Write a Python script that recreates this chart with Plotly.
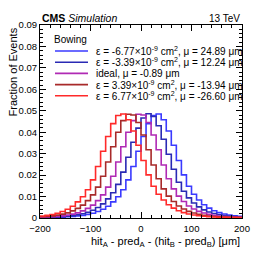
import plotly.graph_objects as go

# Bin edges (µm), 10 µm bins from -200 to 200
bin_edges = list(range(-200, 201, 10))

# Fraction of events per bin
eps_m677 = [0.00018, 0.00022, 0.00028, 0.00034, 0.00043, 0.00055, 0.00071, 0.00093, 0.00122, 0.00165,
            0.0022, 0.0030, 0.0041, 0.0055, 0.0075, 0.0099, 0.0132, 0.0178, 0.0240, 0.0311,
            0.0380, 0.0440, 0.0478, 0.0485, 0.0458, 0.0406, 0.0339, 0.0268, 0.0201, 0.0148,
            0.0111, 0.0084, 0.0062, 0.0046, 0.0034, 0.0025, 0.00185, 0.00138, 0.00103, 0.00079]
eps_m339 = [0.00026, 0.00031, 0.00039, 0.00049, 0.00064, 0.00083, 0.00108, 0.00146, 0.00195, 0.0026,
            0.0036, 0.0049, 0.0066, 0.0089, 0.0118, 0.0157, 0.0214, 0.0283, 0.0353, 0.0419,
            0.0466, 0.0486, 0.0473, 0.0430, 0.0367, 0.0297, 0.0227, 0.0167, 0.0125, 0.0094,
            0.0070, 0.0052, 0.0038, 0.0028, 0.0021, 0.00155, 0.00114, 0.00088, 0.00067, 0.00052]
ideal = [0.00037, 0.00046, 0.00059, 0.00077, 0.0010, 0.00134, 0.0018, 0.0024, 0.0033, 0.0045,
         0.0060, 0.0081, 0.0108, 0.0144, 0.0195, 0.0261, 0.0332, 0.0400, 0.0454, 0.0484,
         0.0480, 0.0445, 0.0387, 0.0318, 0.0247, 0.0183, 0.0136, 0.0102, 0.0077, 0.0056,
         0.0042, 0.0031, 0.0023, 0.0017, 0.00126, 0.00095, 0.00073, 0.00056, 0.00044, 0.00035]
eps_p339 = [0.00059, 0.00077, 0.0010, 0.00134, 0.0018, 0.0024, 0.0033, 0.0045, 0.0060, 0.0081,
            0.0108, 0.0144, 0.0195, 0.0261, 0.0332, 0.0400, 0.0454, 0.0484, 0.0480, 0.0445,
            0.0387, 0.0318, 0.0247, 0.0183, 0.0136, 0.0102, 0.0077, 0.0056, 0.0042, 0.0031,
            0.0023, 0.0017, 0.00126, 0.00095, 0.00073, 0.00056, 0.00044, 0.00035, 0.00028, 0.00023]
eps_p677 = [0.00093, 0.00122, 0.00165, 0.0022, 0.0030, 0.0041, 0.0055, 0.0075, 0.0099, 0.0132,
            0.0178, 0.0240, 0.0311, 0.0380, 0.0440, 0.0478, 0.0485, 0.0458, 0.0406, 0.0339,
            0.0268, 0.0201, 0.0148, 0.0111, 0.0084, 0.0062, 0.0046, 0.0034, 0.0025, 0.00185,
            0.00138, 0.00103, 0.00079, 0.0006, 0.00047, 0.00038, 0.0003, 0.00025, 0.0002, 0.00016]

series_labels = [
    "ε = -6.77×10<sup>-9</sup> cm<sup>2</sup>, μ = 24.89 μm",
    "ε = -3.39×10<sup>-9</sup> cm<sup>2</sup>, μ = 12.24 μm",
    "ideal, μ = -0.89 μm",
    "ε = 3.39×10<sup>-9</sup> cm<sup>2</sup>, μ = -13.94 μm",
    "ε = 6.77×10<sup>-9</sup> cm<sup>2</sup>, μ = -26.60 μm",
]
series_values = [eps_m677, eps_m339, ideal, eps_p339, eps_p677]
series_colors = ["#3a3aff", "#2a2ab4", "#b02ab4", "#a82a2a", "#ff2a2a"]

FONT = "Liberation Sans, Arial, Helvetica, sans-serif"

fig = go.Figure()
for vals, col, lab in zip(series_values, series_colors, series_labels):
    fig.add_trace(go.Scatter(
        x=bin_edges, y=vals + [vals[-1]], mode="lines", line_shape="hv",
        line=dict(color=col, width=1.6), name=lab, showlegend=False))

# legend (drawn manually to get ROOT-like compact spacing)
leg_y_px = [51, 62.2, 73.4, 84.6, 95.8]
H_TOP, H_BOT, W_L, W_R = 25, 218, 40, 242
def py(p):
    return (H_BOT - p) / (H_BOT - H_TOP)
def px(p):
    return (p - W_L) / (W_R - W_L)

annotations = []
shapes = []
annotations.append(dict(text="Bowing", x=px(52), y=py(39), xref="paper", yref="paper",
                        xanchor="left", yanchor="middle", showarrow=False,
                        font=dict(size=10, color="black", family=FONT)))
for yy, col, lab in zip(leg_y_px, series_colors, series_labels):
    shapes.append(dict(type="line", xref="paper", yref="paper", x0=px(55), x1=px(88),
                       y0=py(yy), y1=py(yy), line=dict(color=col, width=1.6)))
    annotations.append(dict(text=lab, x=px(94), y=py(yy), xref="paper", yref="paper",
                            xanchor="left", yanchor="middle", showarrow=False,
                            font=dict(size=10, color="black", family=FONT)))

annotations.append(dict(text="<b>CMS</b> <i>Simulation</i>", x=0, y=py(18), xref="paper",
                        yref="paper", xanchor="left", yanchor="middle", showarrow=False,
                        font=dict(size=10.5, color="black", family=FONT)))
annotations.append(dict(text="13 TeV", x=1, y=py(18), xref="paper", yref="paper",
                        xanchor="right", yanchor="middle", showarrow=False,
                        font=dict(size=10, color="black", family=FONT)))
annotations.append(dict(text="Fraction of Events", x=px(12), y=py(26), xref="paper",
                        yref="paper", xanchor="center", yanchor="top", textangle=-90,
                        showarrow=False, font=dict(size=11, color="black", family=FONT)))
annotations.append(dict(text="hit<sub>A</sub> - pred<sub>A</sub> - (hit<sub>B</sub> - pred<sub>B</sub>) [μm]",
                        x=1, y=py(242), xref="paper", yref="paper", xanchor="right",
                        yanchor="middle", showarrow=False,
                        font=dict(size=11, color="black", family=FONT)))

axis_common = dict(showline=True, linecolor="black", linewidth=1, mirror="allticks",
                   ticks="inside", ticklen=6, tickcolor="black", tickwidth=1,
                   showgrid=False, zeroline=False,
                   tickfont=dict(size=9.5, color="black", family=FONT))

fig.update_layout(
    width=266, height=259,
    margin=dict(l=W_L, r=266 - W_R, t=H_TOP, b=259 - H_BOT),
    paper_bgcolor="white", plot_bgcolor="white",
    showlegend=False,
    xaxis=dict(range=[-200, 200], tick0=0, dtick=100, ticklabelstandoff=2,
               minor=dict(ticks="inside", ticklen=3, dtick=20, tickcolor="black"),
               **axis_common),
    yaxis=dict(range=[0, 0.09], tick0=0, dtick=0.01,
               minor=dict(ticks="inside", ticklen=3, dtick=0.002, tickcolor="black"),
               **axis_common),
    annotations=annotations, shapes=shapes,
)

fig.write_html("out.html", config={"displayModeBar": False},
               post_script="document.body.style.margin='0';document.body.style.overflow='hidden';")
